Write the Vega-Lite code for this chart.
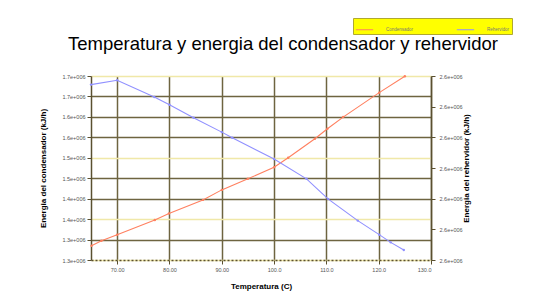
{
  "$schema": "https://vega.github.io/schema/vega-lite/v6.json",
  "width": 340,
  "height": 184,
  "autosize": {"type": "none"},
  "padding": {"left": 91, "top": 76, "right": 106, "bottom": 41},
  "background": "white",
  "title": {
    "text": "Temperatura y energia del condensador y rehervidor",
    "font": "Liberation Sans",
    "fontSize": 18.5,
    "fontWeight": "normal",
    "color": "#000000",
    "anchor": "middle",
    "dx": 22,
    "dy": 58,
    "offset": 22
  },
  "config": {
    "view": {"stroke": null},
    "axis": {
      "labelFont": "Liberation Sans",
      "labelFontSize": 5.5,
      "labelColor": "#555555",
      "titleFont": "Liberation Sans",
      "titleFontSize": 8,
      "titleFontWeight": "bold",
      "titleColor": "#000000",
      "domainColor": "#5a5030",
      "tickColor": "#5a5030"
    }
  },
  "data": {
    "values": [
      {"T": 65.1, "serie": "Condensador", "E": 1315000},
      {"T": 67.0, "serie": "Condensador", "E": 1327000},
      {"T": 70.0, "serie": "Condensador", "E": 1342000},
      {"T": 77.2, "serie": "Condensador", "E": 1378000},
      {"T": 79.9, "serie": "Condensador", "E": 1394000},
      {"T": 86.4, "serie": "Condensador", "E": 1427000},
      {"T": 90.0, "serie": "Condensador", "E": 1451500},
      {"T": 95.0, "serie": "Condensador", "E": 1478500},
      {"T": 100.0, "serie": "Condensador", "E": 1507000},
      {"T": 102.7, "serie": "Condensador", "E": 1530000},
      {"T": 107.8, "serie": "Condensador", "E": 1576500},
      {"T": 110.2, "serie": "Condensador", "E": 1601000},
      {"T": 113.2, "serie": "Condensador", "E": 1629500},
      {"T": 120.1, "serie": "Condensador", "E": 1689300},
      {"T": 125.0, "serie": "Condensador", "E": 1729300},
      {"T": 65.0, "serie": "Rehervidor", "E": 2617190},
      {"T": 70.0, "serie": "Rehervidor", "E": 2618600},
      {"T": 77.1, "serie": "Rehervidor", "E": 2613140},
      {"T": 80.0, "serie": "Rehervidor", "E": 2610650},
      {"T": 84.6, "serie": "Rehervidor", "E": 2606400},
      {"T": 90.0, "serie": "Rehervidor", "E": 2601700},
      {"T": 92.0, "serie": "Rehervidor", "E": 2599870},
      {"T": 100.0, "serie": "Rehervidor", "E": 2592940},
      {"T": 106.2, "serie": "Rehervidor", "E": 2586470},
      {"T": 110.3, "serie": "Rehervidor", "E": 2579940},
      {"T": 116.0, "serie": "Rehervidor", "E": 2572840},
      {"T": 120.1, "serie": "Rehervidor", "E": 2568270},
      {"T": 122.3, "serie": "Rehervidor", "E": 2565750},
      {"T": 124.8, "serie": "Rehervidor", "E": 2563270}
    ]
  },
  "encoding": {
    "x": {
      "field": "T",
      "type": "quantitative",
      "scale": {"domain": [65, 130], "nice": false, "zero": false},
      "axis": {
        "title": "Temperatura (C)",
        "values": [70, 80, 90, 100, 110, 120, 130],
        "labelExpr": "format(datum.value, '.4r')",
        "grid": true,
        "gridColor": "#6e6440",
        "gridWidth": 1.5,
        "domainDash": [2, 2],
        "domainWidth": 1.5,
        "tickSize": 4,
        "labelPadding": 3,
        "titlePadding": 10
      }
    },
    "color": {
      "field": "serie",
      "type": "nominal",
      "scale": {"domain": ["Condensador", "Rehervidor"], "range": ["#ff8060", "#9090ff"]},
      "legend": {
        "title": null,
        "orient": "none",
        "legendX": 262,
        "legendY": -58,
        "direction": "horizontal",
        "fillColor": "#ffff00",
        "strokeColor": "#b0a830",
        "padding": 2,
        "symbolType": "stroke",
        "symbolSize": 300,
        "symbolStrokeWidth": 1,
        "labelFont": "Liberation Sans",
        "labelFontSize": 4.5,
        "labelColor": "#777777",
        "columnPadding": 40,
        "labelOffset": 12
      }
    }
  },
  "layer": [
    {
      "transform": [{"filter": "datum.serie == 'Condensador'"}],
      "mark": {"type": "line", "strokeWidth": 1.1, "point": {"size": 6, "filled": true}},
      "encoding": {
        "y": {
          "field": "E",
          "type": "quantitative",
          "scale": {"domain": [1280000, 1730000], "nice": false, "zero": false},
          "axis": {
            "orient": "left",
            "title": "Energia del condensador (kJ/h)",
            "values": [1280000, 1330000, 1380000, 1430000, 1480000, 1530000, 1580000, 1630000, 1680000, 1730000],
            "labelExpr": "replace(format(datum.value, '.1e'), 'e+', 'e+00')",
            "grid": true,
            "gridColor": {"condition": {"test": "datum.value == 1380000 || datum.value == 1530000 || datum.value == 1730000 || datum.value == 1280000", "value": "#f0e8a8"}, "value": "#6e6440"},
            "gridWidth": 1.5,
            "domainWidth": 1.5,
            "tickSize": 4,
            "labelPadding": 2,
            "titlePadding": 14
          }
        }
      }
    },
    {
      "transform": [{"filter": "datum.serie == 'Rehervidor'"}],
      "mark": {"type": "line", "strokeWidth": 1.1, "point": {"size": 6, "filled": true}},
      "encoding": {
        "y": {
          "field": "E",
          "type": "quantitative",
          "scale": {"domain": [2560000, 2620000], "nice": false, "zero": false},
          "axis": {
            "orient": "right",
            "title": "Energia del rehervidor (kJ/h)",
            "titleAngle": 270,
            "values": [2560000, 2570000, 2580000, 2590000, 2600000, 2610000, 2620000],
            "labelExpr": "replace(format(datum.value, '.1e'), 'e+', 'e+00')",
            "grid": false,
            "domainWidth": 1.5,
            "tickSize": 4,
            "labelPadding": 4,
            "titlePadding": 8
          }
        }
      }
    }
  ],
  "resolve": {"scale": {"y": "independent"}}
}
